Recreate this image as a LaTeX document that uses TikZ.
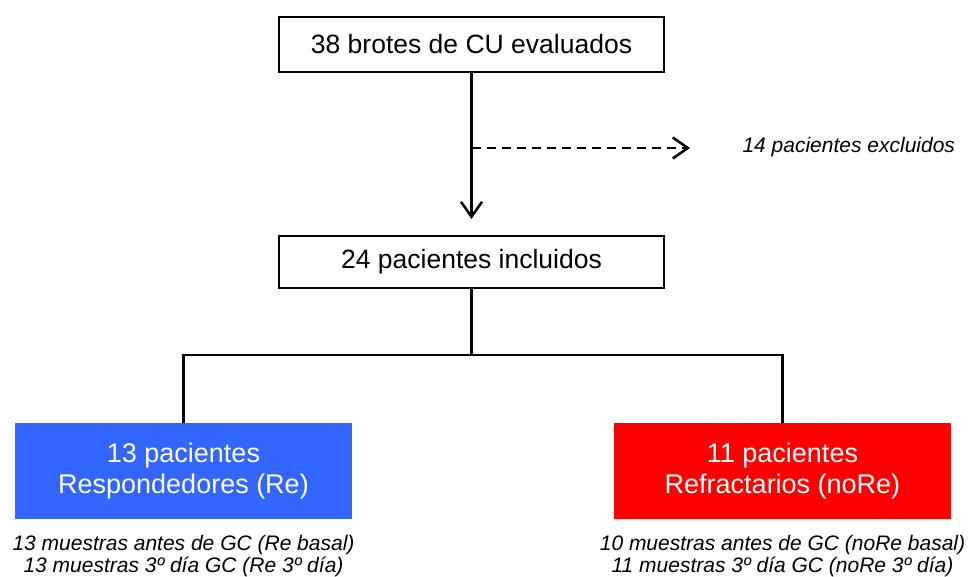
\documentclass[tikz,border=0pt]{standalone}
\usepackage{fontspec}
\setmainfont{Liberation Sans}
\usetikzlibrary{arrows.meta}
\definecolor{reblue}{RGB}{51,102,255}
\definecolor{rered}{RGB}{255,0,0}
\begin{document}
\begin{tikzpicture}[x=1pt,y=1pt,
  wbox/.style={draw=black,line width=2pt,fill=white,minimum width=385pt,minimum height=55pt,inner sep=0pt,font=\fontsize{26.5}{30}\selectfont},
  cbox/.style={minimum width=337pt,minimum height=96pt,inner sep=0pt,text=white,align=center,font=\fontsize{27}{31}\selectfont},
  note/.style={align=center,font=\fontsize{21}{22}\selectfont\itshape},
  conn/.style={line width=2.5pt},
  tip/.style={-{Straight Barb[length=15pt,width=21pt,line width=2.5pt]}}]
\useasboundingbox (0,0) rectangle (975,577);
\node[wbox] (top) at (471.5,532.5) {38 brotes de CU evaluados};
\node[wbox,minimum height=52pt] (inc) at (471.5,315) {24 pacientes incluidos};
\node[cbox,fill=reblue] (re) at (183.5,106) {13 pacientes\\Respondedores (Re)};
\node[cbox,fill=rered] (nore) at (782.5,106) {11 pacientes\\Refractarios (noRe)};
\node[note] (ren) at (183.5,21) {13 muestras antes de GC (Re basal)\\13 muestras 3º día GC (Re 3º día)};
\node[note] (noren) at (782.5,21) {10 muestras antes de GC (noRe basal)\\11 muestras 3º día GC (noRe 3º día)};
\node[font=\fontsize{21}{24}\selectfont\itshape,anchor=west] (exc) at (739,430) {14 pacientes excluidos};
\coordinate (split) at (471.5,429);
\coordinate (dend) at (690,429);
\coordinate (inctop) at (471.5,358);
\draw[conn,tip] (top.south) -- (inctop);
\draw[conn,dashed,dash pattern=on 9pt off 6pt,tip] (split) -- (dend);
\coordinate (hj) at (471.5,222);
\draw[conn] (inc.south) -- (hj);
\draw[conn] (re.north) |- (hj) -| (nore.north);
\end{tikzpicture}
\end{document}
